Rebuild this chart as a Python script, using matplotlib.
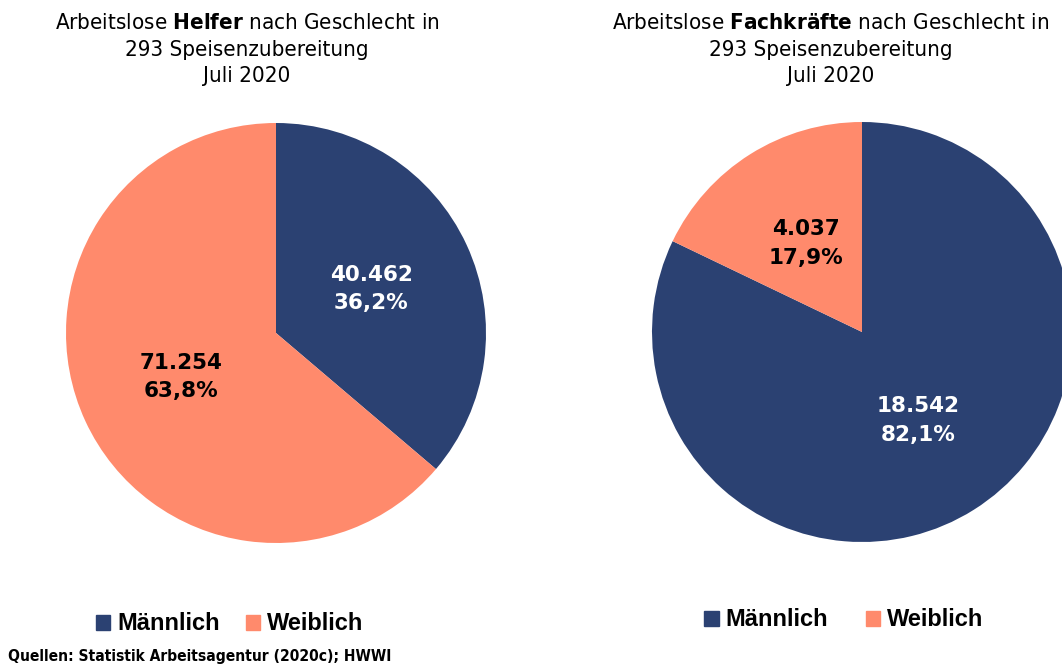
import matplotlib
matplotlib.use('Agg')
import numpy as np
import matplotlib.pyplot as plt
from matplotlib.patches import Patch

plt.rcParams['mathtext.fontset'] = 'custom'
plt.rcParams['mathtext.bf'] = 'DejaVu Sans:bold:stretch=condensed'
plt.rcParams['mathtext.rm'] = 'DejaVu Sans:stretch=condensed'

categories = ['Männlich', 'Weiblich']
helfer = [40462, 71254]
fachkraefte = [18542, 4037]
titles = [
    'Arbeitslose $\\mathbf{Helfer}$ nach Geschlecht in\n293 Speisenzubereitung\nJuli 2020',
    'Arbeitslose $\\mathbf{Fachkräfte}$ nach Geschlecht in\n293 Speisenzubereitung\nJuli 2020',
]
source = 'Quellen: Statistik Arbeitsagentur (2020c); HWWI'

colors = ['#2B4172', '#FF8A6C']
label_colors = ['white', 'black']

W, H = 1062, 668
fig = plt.figure(figsize=(W / 100, H / 100), dpi=100)


def fmt_de(v, total):
    num = f'{v:,}'.replace(',', '.')
    pct = f'{v / total * 100:.1f}'.replace('.', ',')
    return f'{num}\n{pct}%'


def draw_pie(left_px, bottom_px, values):
    ax = fig.add_axes([left_px / W, bottom_px / H, 420 / W, 420 / H])
    wedges, _ = ax.pie(values, colors=colors, startangle=90, counterclock=False,
                       radius=1, wedgeprops=dict(linewidth=0))
    total = sum(values)
    for w, v, tc in zip(wedges, values, label_colors):
        ang = np.deg2rad((w.theta1 + w.theta2) / 2)
        ax.text(0.5 * np.cos(ang), 0.5 * np.sin(ang), fmt_de(v, total),
                ha='center', va='center', color=tc, fontsize=15.5,
                fontweight='bold', linespacing=1.55)
    ax.set_xlim(-1, 1)
    ax.set_ylim(-1, 1)
    ax.set_aspect('equal')
    ax.axis('off')
    return ax


draw_pie(66, 125, helfer)
draw_pie(652, 126, fachkraefte)

for t, cx in zip(titles, [247, 831]):
    fig.text(cx / W, 1 - 49.5 / H, t, ha='center', va='center', multialignment='center',
             family='DejaVu Sans', stretch='condensed', fontsize=16, linespacing=1.38)

handles = [Patch(color=c, label=l) for c, l in zip(colors, categories)]
for cx, cy, cs in [(230, 624, 1.1), (844, 620, 1.6)]:
    fig.legend(handles=handles, loc='center', bbox_to_anchor=(cx / W, 1 - cy / H),
               ncol=2, frameon=False, handlelength=0.6, handleheight=0.6,
               handletextpad=0.3, columnspacing=cs,
               prop=dict(family='Liberation Sans', weight='bold', size=17))

fig.text(8 / W, 1 - 657 / H, source, ha='left', va='center',
         family='DejaVu Sans', stretch='condensed', fontweight='bold', fontsize=11.2)

fig.savefig('out.png', dpi=100)
